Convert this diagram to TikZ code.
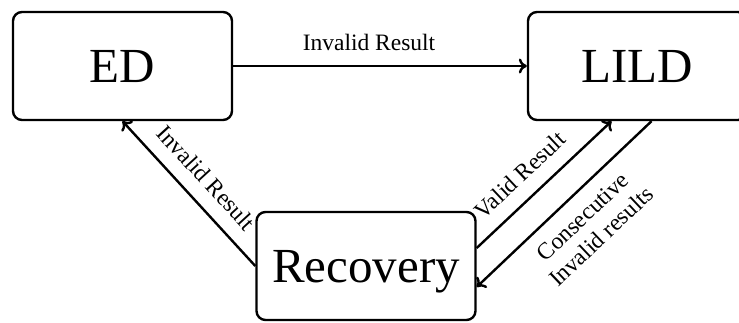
\documentclass[tikz,border=0pt]{standalone}
\usepackage{fontspec}
\setmainfont{Liberation Serif}
\usetikzlibrary{arrows.meta}

\begin{document}
\begin{tikzpicture}[x=1pt,y=1pt,
  state/.style={draw, line width=2.4pt, rounded corners=9pt,
    minimum width=219pt, minimum height=108pt, text depth=0pt,
    inner sep=0pt, font=\fontsize{49}{54}\selectfont},
  flow/.style={line width=2.4pt, -{To[length=8pt,width=15pt]}},
  edgelabel/.style={font=\fontsize{23.5}{27}\selectfont, inner xsep=0pt,
    inner ysep=14pt, align=center}]
  \useasboundingbox (0,0) rectangle (739,322);

  % the three states
  \node[state] (ED)   at (122.5,256) {ED};
  \node[state] (LILD) at (637.5,256) {LILD};
  \node[state] (Rec)  at (366,56)    {Recovery};

  % transitions
  \draw[flow] (ED.east) -- node[edgelabel, above, xshift=-11pt] {Invalid Result} (LILD.west);
  \draw[flow] (Rec.west) -- node[edgelabel, sloped, above, pos=0.5] {Invalid Result} (ED.south);
  \draw[flow] ([yshift=18pt]Rec.east) -- node[edgelabel, sloped, above, pos=0.44] {Valid Result} ([xshift=-26pt]LILD.south);
  \draw[flow] ([xshift=14pt]LILD.south) -- node[edgelabel, sloped, below, inner ysep=13pt, pos=0.48] {Consecutive\\Invalid results} ([yshift=-21pt]Rec.east);
\end{tikzpicture}
\end{document}
